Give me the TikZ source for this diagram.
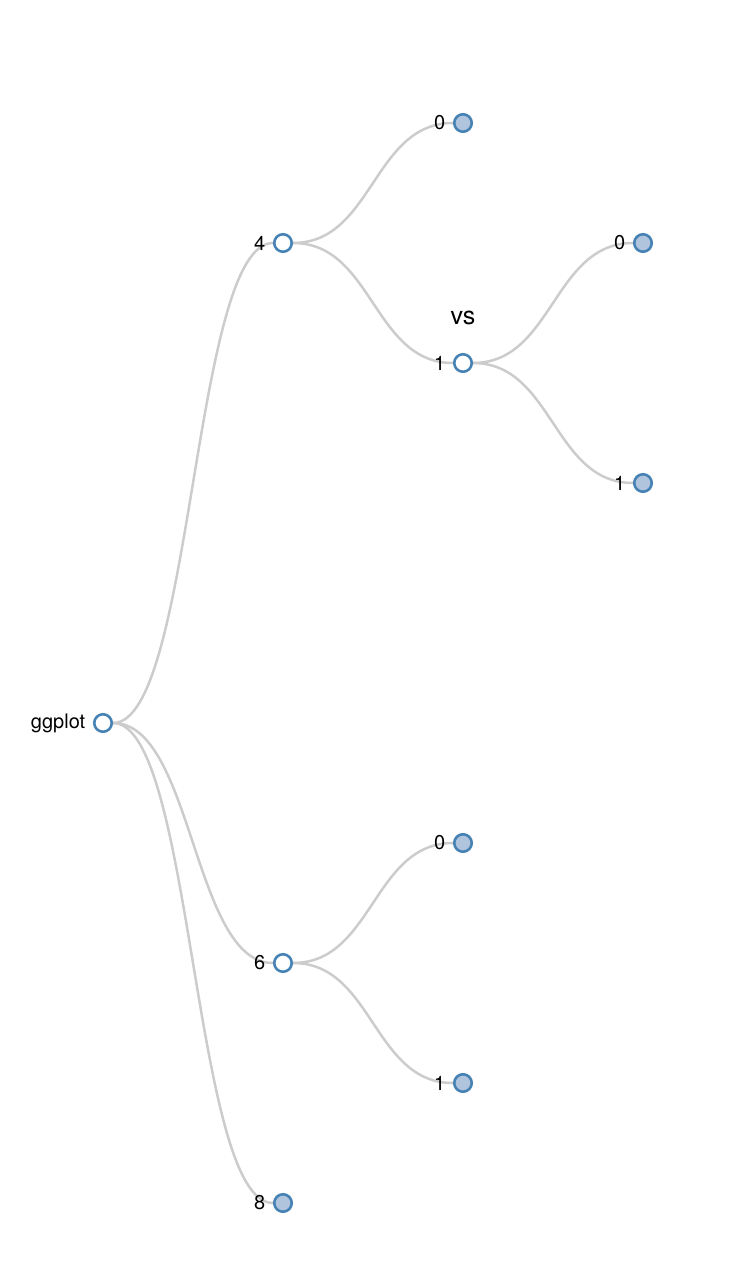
\documentclass[tikz,border=0pt]{standalone}
\usepackage{fontspec}
\setmainfont{TeX Gyre Heros}
\usetikzlibrary{calc}
\usetikzlibrary{backgrounds}
\definecolor{linkgray}{HTML}{CCCCCC}
\definecolor{steel}{HTML}{4682B4}
\definecolor{lightsteel}{HTML}{B0C4DE}

\begin{document}
\begin{tikzpicture}[x=1pt,y=-1pt]
        \tikzset{tnode/.style={circle,draw=steel,line width=2.6pt,fill=white,minimum size=17.5pt,inner sep=0pt},
                 leaf/.style={tnode,fill=lightsteel},
                 link/.style={draw=linkgray,line width=2.5pt},
                 every label/.style={inner sep=0pt,font=\fontsize{20}{20}\selectfont},
                 label distance=7.5pt}
        \useasboundingbox (0,0) rectangle (736,1282);
        
        %root
        \node[tnode,label=left:{ggplot}] (root) at (103,723) {};
        
        %first level
        \node[tnode,label=left:{4}] (n4) at (283,243) {};
        \node[tnode,label=left:{6}] (n6) at (283,963) {};
        \node[leaf,label=left:{8}] (n8) at (283,1203) {};
        
        %second level
        \node[leaf,label=left:{0}] (n40) at (463,123) {};
        \node[tnode,label=left:{1}] (n41) at (463,363) {};
        \node[leaf,label=left:{0}] (n60) at (463,843) {};
        \node[leaf,label=left:{1}] (n61) at (463,1083) {};
        \node[font=\fontsize{25}{25}\selectfont] (vs) at (463,318) {vs};
        
        %third level
        \node[leaf,label=left:{0}] (n410) at (643,243) {};
        \node[leaf,label=left:{1}] (n411) at (643,483) {};
        
        %links behind the circles
        \begin{pgfonlayer}{background}
        \foreach \a/\b in {root/n4,root/n6,root/n8,n4/n40,n4/n41,n41/n410,n41/n411,n6/n60,n6/n61}
            \draw[link] (\a) .. controls ($(\a)+(90,0)$) and ($(\b)+(-90,0)$) .. (\b);
        \end{pgfonlayer}
\end{tikzpicture}
\end{document}
